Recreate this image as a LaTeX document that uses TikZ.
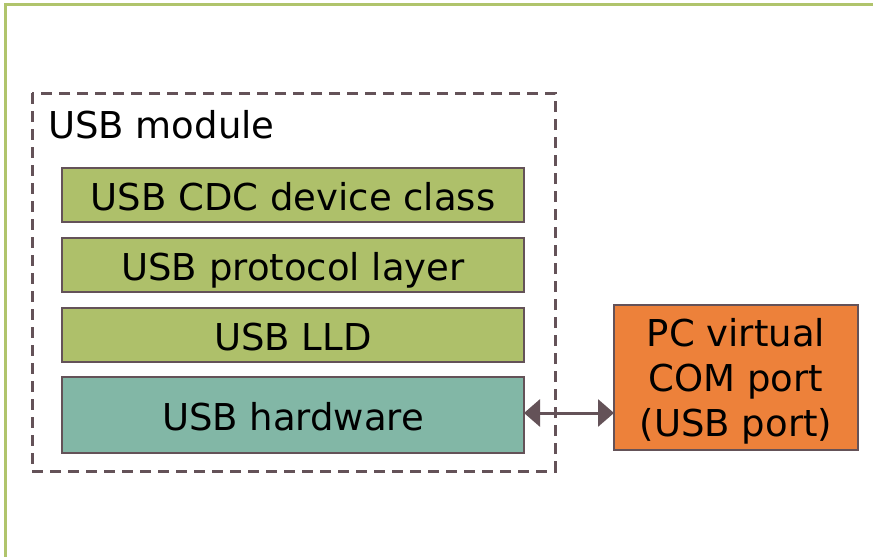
\documentclass[tikz,border=0pt]{standalone}
\usepackage{fontspec}
\setmainfont{DejaVu Sans}
\usetikzlibrary{arrows.meta}
\definecolor{framegreen}{RGB}{176,196,108}
\definecolor{boxgreen}{RGB}{174,192,106}
\definecolor{boxteal}{RGB}{130,183,166}
\definecolor{boxorange}{RGB}{237,129,58}
\definecolor{edgecol}{RGB}{100,82,88}
\tikzset{
  layerbox/.style={draw=edgecol, line width=2.5pt, inner sep=0pt, outer sep=0pt,
    minimum width=462pt, text height=30pt, text depth=0pt,
    font=\fontsize{37}{45}\selectfont},
  pcbox/.style={draw=edgecol, line width=2.5pt, inner sep=0pt, outer sep=0pt,
    fill=boxorange, minimum width=244pt, minimum height=145pt, align=center,
    font=\fontsize{37}{45}\selectfont},
  modulebox/.style={draw=edgecol, line width=3pt, dash pattern=on 11pt off 7pt},
  framebox/.style={draw=framegreen, line width=3pt},
  linkarrow/.style={draw=edgecol, line width=3pt,
    {Triangle[length=16pt,width=27pt]}-{Triangle[length=16pt,width=27pt]}}
}
\begin{document}
\begin{tikzpicture}[x=1pt,y=-1pt]
\useasboundingbox (0,0) rectangle (873,557);
\clip (0,0) rectangle (873,557);
\fill[white] (0,0) rectangle (873,557);
\draw[framebox] (5.5,4) rectangle (900,600);
\draw[modulebox] (32,93) rectangle (555,471);
\node[anchor=base west, inner sep=0pt, font=\fontsize{37}{45}\selectfont] (modlabel) at (48,138) {USB module};
\node[layerbox, fill=boxgreen, minimum height=54pt] (cdc) at (293,195) {USB CDC device class};
\node[layerbox, fill=boxgreen, minimum height=54pt] (proto) at (293,265) {USB protocol layer};
\node[layerbox, fill=boxgreen, minimum height=54pt] (lld) at (293,335) {USB LLD};
\node[layerbox, fill=boxteal, minimum height=76pt] (hw) at (293,415) {USB hardware};
\node[pcbox] (pc) at (736,377.5) {\rule{0pt}{36pt}PC virtual\\COM port\\(USB port)};
\draw[linkarrow] (hw.east |- 0,413) -- (pc.west |- 0,413);
\end{tikzpicture}
\end{document}
